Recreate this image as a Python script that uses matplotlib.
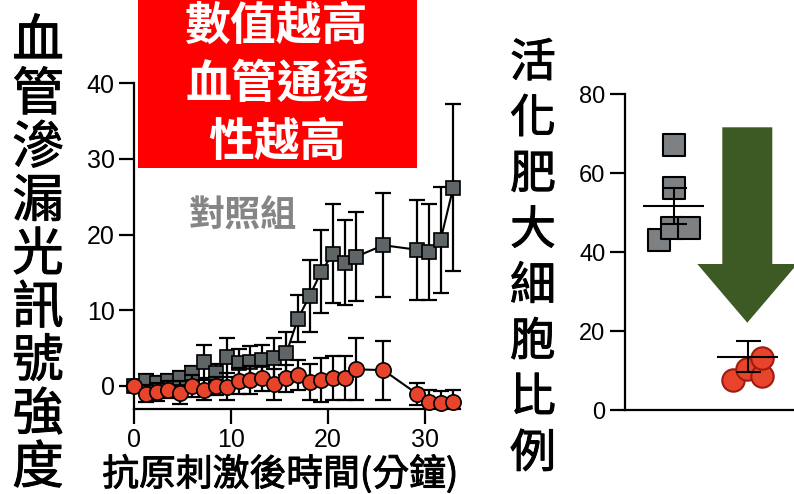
import matplotlib
matplotlib.use("Agg")
import matplotlib.pyplot as plt
from matplotlib.patches import Polygon, Rectangle
import matplotlib.patheffects as pe

plt.rcParams['font.family'] = ['Liberation Sans', 'Noto Sans CJK TC', 'DejaVu Sans']
CJK = ['Noto Sans CJK TC', 'DejaVu Sans']

W, H = 794, 494

# time course (minutes after antigen challenge)
minutes = [0, 1.2, 2.4, 3.5, 4.7, 6.0, 7.2, 8.4, 9.6, 10.8, 12.0, 13.2, 14.4,
           15.7, 16.9, 18.1, 19.3, 20.5, 21.7, 22.9, 25.7, 29.2, 30.4, 31.6, 32.9]
control = [0, 0.6, 0.35, 0.6, 1.0, 1.7, 3.2, 1.7, 3.8, 3.0, 3.2, 3.4, 3.7,
           4.3, 8.9, 11.9, 15.1, 17.5, 16.3, 17.1, 18.6, 18.0, 17.7, 19.3, 26.2]
control_err = [0.5, 1.0, 1.0, 1.0, 1.0, 1.0, 2.2, 1.2, 2.6, 1.9, 2.1, 2.0, 2.6,
               2.9, 3.1, 4.7, 5.5, 6.5, 5.6, 5.9, 6.9, 6.6, 6.3, 7.0, 11.0]
treated = [0, -1.0, -0.75, -0.5, -0.9, 0.0, -0.5, 0.0, -0.1, 0.7, 0.8, 1.0, 0.2,
           1.0, 1.45, 0.57, 0.8, 1.0, 1.0, 2.2, 2.1, -1.06, -2.07, -2.2, -2.07]
treated_err = [0, 1.1, 1.2, 1.1, 1.5, 1.4, 1.35, 1.2, 1.8, 1.7, 1.8, 1.7, 2.0,
               1.8, 2.0, 2.4, 2.9, 2.9, 2.9, 4.1, 3.9, 1.4, 1.5, 1.6, 1.5]

# activated mast cell percentage (individual animals)
ctrl_x = [0.01, 0.01, -0.19, -0.02, 0.21]
ctrl_pct = [67.1, 56.3, 43.0, 46.0, 46.0]
trt_x = [0.8, 0.99, 1.19, 1.19]
trt_pct = [7.6, 10.5, 8.6, 13.1]
group_pos = [0, 1]
group_mean = [51.7, 13.5]
group_sem = [4.6, 3.9]

GRAY = '#5f6567'
RED = '#e8442b'
thick = [pe.withStroke(linewidth=0.7, foreground='black')]


def px(x, y):
    return x / W, 1 - y / H


fig = plt.figure(figsize=(W / 100, H / 100), dpi=100)

# ---- left: leakage time course
ax = fig.add_axes([134 / W, (H - 409) / H, 326 / W, (409 - 83.3) / H])
ax.set_xlim(0, 33.6)
ax.set_ylim(-3.04, 40)
ax.errorbar(minutes, control, yerr=control_err, fmt='none', ecolor='black',
            elinewidth=1.6, capsize=5.5, capthick=1.6, zorder=2)
ax.plot(minutes, control, color='black', lw=1.5, marker='s', ms=10,
        mfc=GRAY, mec='black', mew=1.2, clip_on=False, zorder=3)
ax.errorbar(minutes, treated, yerr=treated_err, fmt='none', ecolor='black',
            elinewidth=1.6, capsize=5.5, capthick=1.6, zorder=4)
ax.plot(minutes, treated, color='black', lw=1.5, marker='o', ms=11,
        mfc=RED, mec='black', mew=1.2, clip_on=False, zorder=5)
ax.set_xticks([0, 10, 20, 30])
ax.set_yticks([0, 10, 20, 30, 40])
for s in ['top', 'right']:
    ax.spines[s].set_visible(False)
for s in ['left', 'bottom']:
    ax.spines[s].set_linewidth(1.6)
ax.tick_params(axis='y', length=11, width=1.6, labelsize=18, pad=3)
ax.tick_params(axis='x', length=11, width=1.6, labelsize=18, pad=3)

# ---- right: activated mast cells
ax2 = fig.add_axes([625 / W, (H - 410) / H, 169 / W, (410 - 94.3) / H])
ax2.set_xlim(-0.654, 1.624)
ax2.set_ylim(0, 80)
ax2.scatter(ctrl_x, ctrl_pct, marker='s', s=240, c='#7d8183',
            edgecolors='black', linewidths=1.5, zorder=3, clip_on=False)
ax2.scatter(trt_x, trt_pct, marker='o', s=260, c=RED,
            edgecolors='#a01a10', linewidths=1.5, zorder=3, clip_on=False)
ax2.hlines(group_mean, [p - 0.41 for p in group_pos], [p + 0.41 for p in group_pos],
           colors='black', lw=1.5, zorder=4)
ax2.errorbar(group_pos, group_mean, yerr=group_sem, fmt='none', ecolor='black',
             elinewidth=1.5, capsize=9, capthick=1.5, zorder=4)
ax2.set_xticks([])
ax2.set_yticks([0, 20, 40, 60, 80])
for s in ['top', 'right']:
    ax2.spines[s].set_visible(False)
for s in ['left', 'bottom']:
    ax2.spines[s].set_linewidth(1.6)
ax2.tick_params(axis='y', length=11, width=1.6, labelsize=17, pad=3)

# green arrow
arrow = [(722.3, 127.3), (772.3, 127.3), (772.3, 264), (797.3, 264),
         (747.3, 322.7), (697.3, 264), (722.3, 264)]
fig.patches.append(Polygon([px(x, y) for x, y in arrow], closed=True,
                           transform=fig.transFigure, facecolor='#3d5a24',
                           edgecolor='none', zorder=6))

# red callout box
x0, y0 = px(138, 168)
fig.patches.append(Rectangle((x0, y0), (417 - 138) / W, 168 / H,
                             transform=fig.transFigure, facecolor='#ff0000',
                             edgecolor='none', zorder=6))
for txt, yy in zip(['數值越高', '血管通透', '性越高'], [27, 85, 143]):
    fig.text(*px(277, yy), txt, family=CJK, weight='bold', fontsize=33,
             color='white', ha='center', va='center', zorder=7)

fig.text(*px(243, 216), '對照組', family=CJK, weight='bold', fontsize=26,
         color='#858585', ha='center', va='center')

# stacked vertical axis titles
for i, ch in enumerate('血管滲漏光訊號強度'):
    fig.text(*px(38, 42 + i * 53.3), ch, family=CJK, fontsize=37,
             ha='center', va='center', path_effects=thick)
for i, ch in enumerate('活化肥大細胞比例'):
    fig.text(*px(533, 63.3 + i * 55.8), ch, family=CJK, fontsize=33,
             ha='center', va='center', path_effects=thick)

fig.text(*px(280, 475), '抗原刺激後時間(分鐘)', family=CJK, fontsize=26.5,
         ha='center', va='center', path_effects=thick)

fig.savefig('out.png', dpi=100)
